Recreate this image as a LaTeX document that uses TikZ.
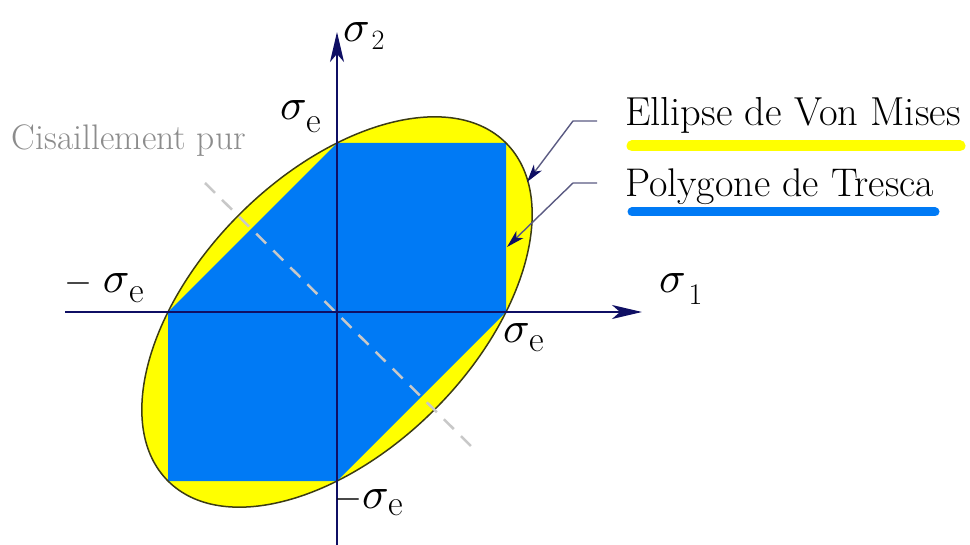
\documentclass[tikz,border=0pt]{standalone}
\usepackage{graphicx}
\usepackage{fontspec}
\usetikzlibrary{arrows.meta}
\definecolor{vmyellow}{RGB}{255,255,0}
\definecolor{trblue}{RGB}{0,122,245}
\definecolor{axisnavy}{RGB}{15,15,100}
\definecolor{ptrgray}{RGB}{90,90,130}
\definecolor{ellout}{RGB}{60,60,20}
\definecolor{shear}{RGB}{200,200,200}
\definecolor{sheartext}{RGB}{140,140,140}
\newcommand{\fsz}[1]{\fontsize{#1}{#1}\selectfont}
\newcommand{\bigsig}{\scalebox{4.4}{\fsz{10}$\sigma$}}
\newcommand{\bigminus}{\scalebox{3.6}{\fsz{10}$-$}}
% #1 subscript, #2 drop, #3 gap, #4 size of subscript
\newcommand{\sigsub}[4]{\bigsig\hspace{#3}\raisebox{-#2}{\fsz{#4}#1}}
\begin{document}
\begin{tikzpicture}[x=1pt,y=1pt,
  lab/.style={inner sep=0pt, outer sep=0pt, anchor=base west},
  axisline/.style={draw=axisnavy, line width=1.6pt,
    -{Stealth[length=30pt,width=14pt,inset=8pt,color=axisnavy]}},
  pointer/.style={draw=ptrgray, line width=1.4pt,
    -{Stealth[length=18pt,width=10pt,inset=5pt,color=axisnavy]}},
  legbar/.style={line cap=round},
]
\useasboundingbox (0,0) rectangle (970,-545);

% key points
\coordinate (O) at (337,-312);
\coordinate (P1) at (506,-312);
\coordinate (P2) at (506,-143);
\coordinate (P3) at (337,-143);
\coordinate (P4) at (168,-312);
\coordinate (P5) at (168,-481);
\coordinate (P6) at (337,-481);

% von Mises ellipse (yellow)
\fill[vmyellow, rotate around={45:(O)}] (O) ellipse [x radius=239pt, y radius=138pt];
% Tresca hexagon (blue)
\fill[trblue] (P1) -- (P2) -- (P3) -- (P4) -- (P5) -- (P6) -- cycle;
% ellipse outline
\draw[ellout, line width=1.5pt, rotate around={45:(O)}] (O) ellipse [x radius=239pt, y radius=138pt];

% pure shear line
\coordinate (S1) at (205,-183);
\coordinate (S2) at (475,-450);
\draw[shear, line width=2.5pt, dash pattern=on 14pt off 10pt] (S1) -- (S2);

% axes
\coordinate (Xa) at (65,-312);
\coordinate (Xb) at (642,-312);
\coordinate (Ya) at (337,-545);
\coordinate (Yb) at (337,-32);
\draw[axisline] (Xa) -- (Xb);
\draw[axisline] (Ya) -- (Yb);

% axis labels
\node[lab] (s1) at (659,-293) {\sigsub{1}{12pt}{3pt}{30}};
\node[lab] (s2) at (343,-42) {\sigsub{2}{8pt}{2pt}{28}};

% sigma_e labels
\node[lab] (setop) at (280,-120) {\sigsub{e}{13pt}{0pt}{36}};
\node[lab] (seleft) at (64,-293) {\bigminus\hspace{11pt}\sigsub{e}{10pt}{0pt}{36}};
\node[lab] (seright) at (503,-343) {\sigsub{e}{9pt}{0pt}{36}};
\node[lab] (sebot) at (334,-508) {\bigminus\sigsub{e}{7pt}{0pt}{36}};

% pure shear label
\node[lab, text=sheartext] (shearlab) at (12,-150) {\fsz{35.5}Cisaillement pur};

% legend
\node[lab] (legvm) at (625,-126) {\fsz{40.5}Ellipse de Von Mises};
\node[lab] (legtr) at (625,-197) {\fsz{40}Polygone de Tresca};
\draw[legbar, vmyellow, line width=11pt] (632,-146) -- (960,-146);
\draw[legbar, trblue, line width=9pt] (632,-212) -- (935,-212);

% pointers
\coordinate (VMa) at (597,-121);
\coordinate (VMk) at (573,-121);
\coordinate (VMt) at (527,-182);
\coordinate (TRa) at (597,-183);
\coordinate (TRk) at (573,-183);
\coordinate (TRt) at (507,-247);
\draw[pointer] (VMa) -- (VMk) -- (VMt);
\draw[pointer] (TRa) -- (TRk) -- (TRt);
\end{tikzpicture}
\end{document}
